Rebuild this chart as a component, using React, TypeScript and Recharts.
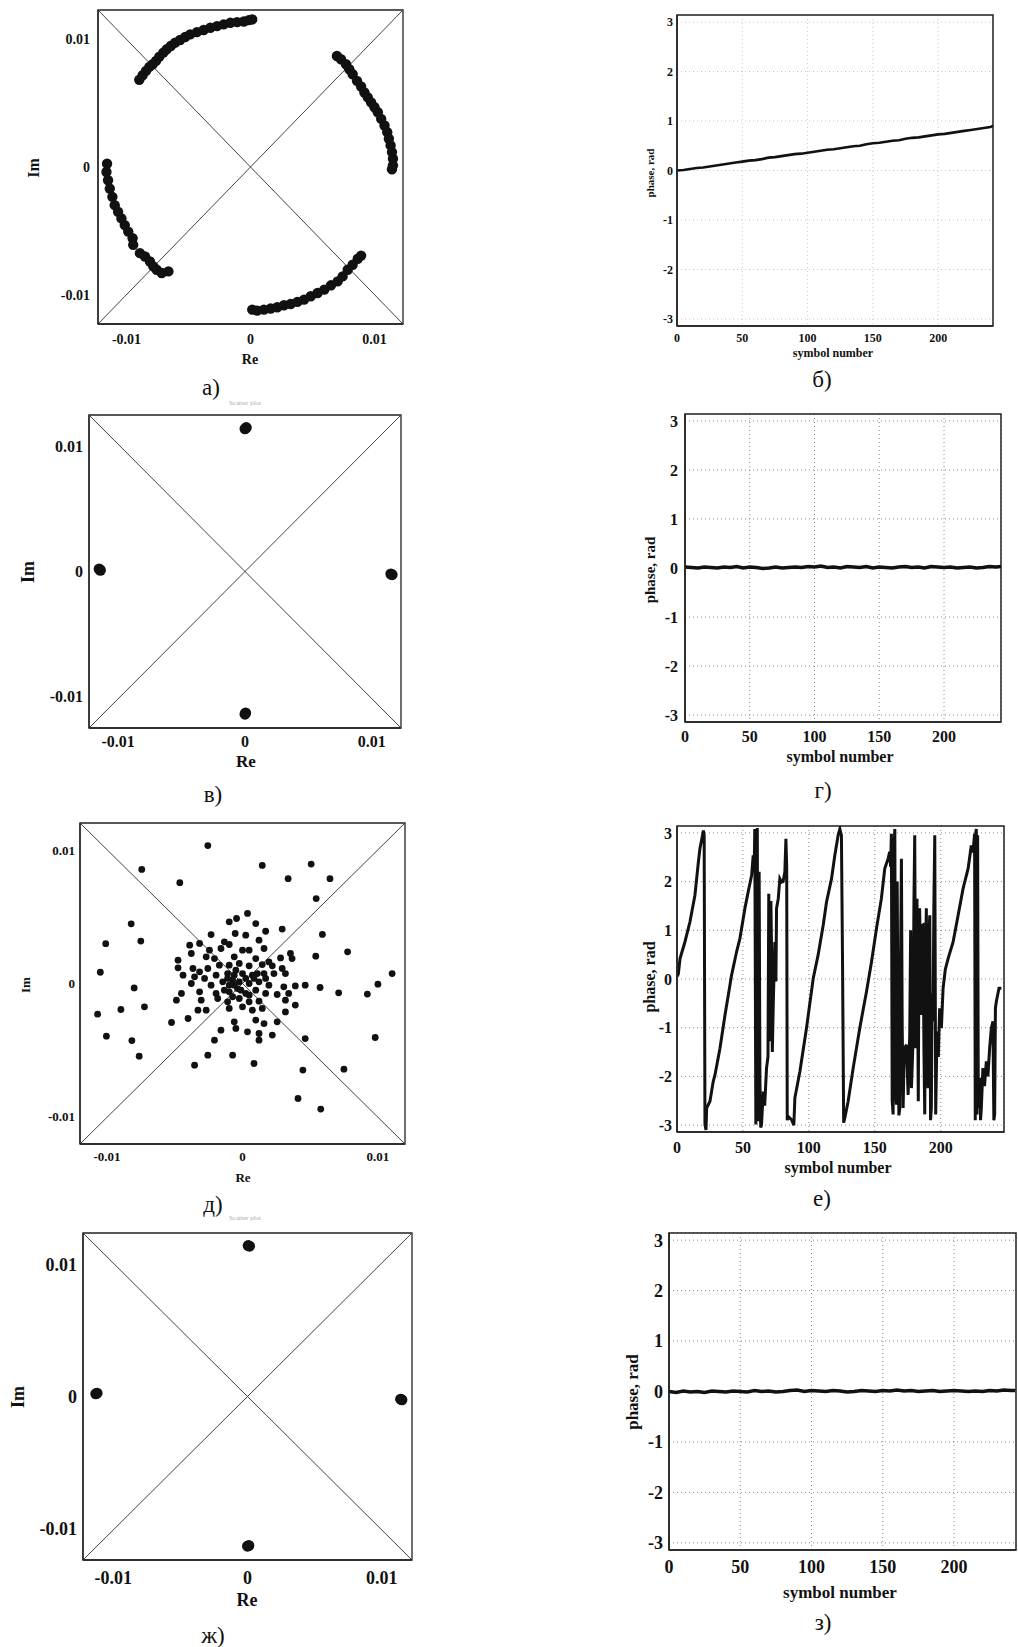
import React from 'react';
import {
  ScatterChart, Scatter, LineChart, Line, XAxis, YAxis, CartesianGrid,
  ReferenceLine, ReferenceArea,
} from 'recharts';

// constellation а): rotating QPSK, Re / Im in units of 1e-3
const arcTop = [
  [-8.97, 6.83], [-8.7, 7.19], [-8.43, 7.53], [-8.16, 7.84], [-7.89, 8.05], [-7.62, 8.31],
  [-7.35, 8.65], [-7.03, 8.96], [-6.76, 9.22], [-6.43, 9.48], [-6.08, 9.74], [-5.68, 9.95],
  [-5.27, 10.18], [-4.86, 10.39], [-4.32, 10.57], [-3.78, 10.73], [-3.24, 10.91], [-2.7, 11.04],
  [-2.16, 11.17], [-1.62, 11.3], [-1.08, 11.35], [-0.54, 11.4], [-0.14, 11.51], [0.14, 11.56],
];
const arcRight = [
  [6.97, 8.7], [7.3, 8.44], [7.7, 8.05], [7.97, 7.66], [8.24, 7.27], [8.59, 6.75], [8.92, 6.31],
  [9.19, 5.84], [9.46, 5.45], [9.73, 5.06], [10.0, 4.68], [10.27, 4.29], [10.54, 3.77],
  [10.81, 3.25], [11.03, 2.73], [11.16, 2.21], [11.3, 1.69], [11.41, 1.17], [11.49, 0.65],
  [11.49, 0.13], [11.41, -0.18],
];
const arcLeft = [
  [-11.57, 0.26], [-11.62, -0.39], [-11.49, -1.04], [-11.35, -1.69], [-11.14, -2.34],
  [-10.95, -2.99], [-10.68, -3.51], [-10.41, -4.03], [-10.14, -4.55], [-9.86, -5.06],
  [-9.51, -5.58], [-9.46, -6.1], [-8.92, -6.75], [-8.51, -7.01], [-8.11, -7.4], [-7.84, -7.79],
  [-7.57, -8.05], [-7.16, -8.31], [-6.62, -8.18],
];
const arcBottom = [
  [0.14, -11.17], [0.54, -11.25], [1.08, -11.17], [1.62, -11.09], [2.16, -10.99], [2.7, -10.83],
  [3.24, -10.73], [3.78, -10.57], [4.32, -10.39], [4.86, -10.13], [5.41, -9.87], [5.95, -9.61],
  [6.49, -9.27], [7.03, -8.96], [7.43, -8.57], [7.84, -8.05], [8.24, -7.66], [8.65, -7.19],
  [8.92, -6.94],
];

// constellation в): after correction
const pointsB = [
  [0, 11.4], [0.1, 11.5], [-11.5, 0.2], [-11.4, 0.1], [11.5, -0.2], [11.6, -0.25], [0, -11.4], [0.05, -11.3],
];

// constellation д): noise-like cloud
const cloudD = [
  [0.37, 5.28], [-0.44, 4.9], [-0.98, 4.65], [0.98, 4.52], [-2.32, 3.69], [-0.54, 3.77], [0.24, 3.64],
  [1.71, 3.94], [2.93, 4.1], [1.22, 3.27], [-3.9, 2.89], [-3.17, 3.02], [-1.34, 3.14], [-0.98, 2.94],
  [-3.78, 2.26], [-2.44, 2.51], [-1.59, 2.64], [0, 2.51], [0.49, 2.51], [1.59, 2.64], [2.81, 1.93],
  [3.54, 2.26], [3.66, 1.88], [-4.76, 1.76], [-2.68, 2.01], [-2.07, 1.88], [-0.61, 2.01], [0.98, 1.88],
  [1.95, 1.63], [-4.76, 1.18], [-3.66, 1.13], [-3.17, 0.88], [-2.56, 1.13], [-1.71, 1.38], [-0.98, 1.38],
  [-0.24, 1.51], [0.49, 1.33], [1.46, 1.43], [2.2, 1.33], [2.93, 1.13], [-4.39, 0.63], [-3.54, 0.5],
  [-2.8, 0.38], [-1.95, 0.63], [-1.1, 0.75], [-0.61, 0.63], [0, 0.75], [0.73, 0.63], [1.59, 0.75],
  [2.32, 0.75], [3.17, 0.75], [-3.78, 0], [-2.32, -0.13], [-1.46, 0.13], [-0.73, 0.25], [-0.24, 0.13],
  [0.49, 0], [1.22, 0.13], [1.95, -0.13], [3.05, -0.25], [3.9, -0.18], [4.63, -0.13], [-4.51, -0.75],
  [-3.17, -0.63], [-1.95, -0.75], [-0.98, -0.63], [-0.37, -0.38], [0.24, -0.75], [0.98, -0.5],
  [1.71, -0.75], [2.56, -0.83], [3.41, -0.75], [-4.88, -1.26], [-3.05, -1.26], [-1.83, -1.13],
  [-1.1, -1.38], [-0.24, -1.13], [0.49, -1.38], [1.22, -1.33], [3.9, -1.63], [-3.29, -2.01],
  [-2.68, -2.01], [-0.98, -1.88], [0, -1.76], [0.73, -2.01], [1.46, -1.88], [3.17, -2.14],
  [-5.24, -2.94], [-4.02, -2.64], [-0.61, -2.89], [0.98, -2.76], [1.59, -3.02], [2.56, -2.89],
  [-1.59, -3.52], [-0.49, -3.39], [0.37, -3.64], [1.22, -3.77], [2.2, -3.89], [-2.07, -4.27],
  [1.22, -4.27], [-2.56, -5.4], [-0.73, -5.4], [0.85, -6.03], [-3.54, -6.16], [4.63, -4.15],
  [3.17, -1.26], [-1.1, 0.38], [-0.61, -0.13], [-0.12, -0.5], [0.24, 0.38], [0.85, 0.38],
  [-0.98, -0.13], [-0.49, 1.0], [1.1, 0.75], [1.71, 0.38], [0.49, -0.88], [-0.73, -1.0], [-1.34, -0.5],
  [-2.56, 10.4], [-7.44, 8.6], [-4.63, 7.6], [1.46, 8.9], [3.37, 7.9], [5.07, 9.0], [6.46, 7.9],
  [5.44, 6.4], [-8.22, 4.5], [-10.1, 3.0], [-7.51, 3.2], [-10.5, 0.85], [-8.0, -0.33], [-8.98, -1.96],
  [-7.24, -1.76], [-10.7, -2.31], [-10.05, -3.97], [-8.17, -4.3], [-7.63, -5.48], [4.46, -6.53],
  [4.1, -8.67], [5.78, -9.47], [7.49, -6.46], [9.8, -4.07], [9.22, -0.8], [10.0, -0.05], [11.05, 0.75],
  [7.1, -0.7], [5.73, -0.3], [7.76, 2.39], [5.41, 2.06], [5.9, 3.7],
];

// constellation ж)
const pointsZh = [
  [0.05, 11.45], [0.15, 11.4], [-11.2, 0.25], [-11.3, 0.2], [11.4, -0.2], [11.5, -0.25], [0, -11.35], [0.1, -11.3],
];

// phase, rad vs symbol number
const symbolIdx = [
  0, 5, 10, 15, 20, 25, 30, 35, 40, 45, 50, 55, 60, 65, 70, 75, 80, 85, 90, 95, 100, 105, 110, 115,
  120, 125, 130, 135, 140, 145, 150, 155, 160, 165, 170, 175, 180, 185, 190, 195, 200, 205, 210, 215,
  220, 225, 230, 235, 240,
];
const phaseB = [
  0.0, 0.01, 0.03, 0.05, 0.06, 0.08, 0.1, 0.12, 0.14, 0.16, 0.18, 0.2, 0.21, 0.23, 0.26, 0.27, 0.29,
  0.31, 0.33, 0.34, 0.36, 0.38, 0.4, 0.42, 0.43, 0.45, 0.47, 0.49, 0.5, 0.53, 0.55, 0.56, 0.58, 0.6,
  0.61, 0.64, 0.66, 0.67, 0.69, 0.71, 0.73, 0.74, 0.76, 0.78, 0.8, 0.82, 0.84, 0.86, 0.88, 0.9,
];
const phaseG = [
  0.02, 0.01, 0.0, 0.02, 0.01, 0.0, 0.02, 0.01, 0.03, 0.0, 0.02, 0.01, -0.01, 0.0, 0.02, 0.0, 0.01,
  0.02, 0.01, 0.03, 0.02, 0.04, 0.01, 0.02, 0.0, 0.03, 0.02, 0.01, 0.03, 0.0, 0.02, 0.01, 0.0, 0.02,
  0.03, 0.01, 0.02, 0.0, 0.03, 0.02, 0.01, 0.02, 0.0, 0.01, 0.02, 0.0, 0.01, 0.03, 0.02, 0.03,
];
const phaseZ = [
  0.0, -0.02, 0.01, -0.01, 0.0, -0.02, 0.01, 0.0, -0.01, 0.01, 0.0, -0.01, 0.02, 0.0, 0.01, -0.01,
  0.0, 0.02, 0.03, 0.0, 0.02, 0.01, 0.0, 0.02, 0.01, -0.01, 0.0, 0.02, 0.01, 0.0, 0.02, 0.01, 0.03,
  0.01, 0.02, 0.0, 0.01, 0.02, 0.0, 0.01, 0.02, 0.01, 0.0, 0.01, 0.0, 0.02, 0.01, 0.03, 0.02, 0.02,
];
const phaseE = [
  [0, 0.05], [1, 0.1], [2.3, 0.42], [6, 0.76], [9.8, 1.17], [13.6, 1.72], [16.2, 2.4], [17.4, 2.68],
  [19, 2.9], [20, 3.05], [20.6, 2.95], [21.2, -2.99], [22, -3.1], [22.5, -2.65], [25, -2.51],
  [27.5, -2.1], [28.8, -1.97], [32.6, -1.42], [36.4, -0.74], [40.2, -0.12], [41.4, 0.08], [45.2, 0.56],
  [47.7, 0.83], [51.5, 1.45], [54, 1.79], [56.6, 2.13], [57.8, 2.54], [58.5, 2.2], [59, 3.08],
  [59.8, -2.99], [60.4, 2.6], [60.9, 3.1], [61.4, -2.5], [61.9, -2.92], [62.3, 2.2], [62.9, -2.1],
  [63.5, -3.05], [64.1, -2.99], [65.4, -2.31], [66.5, -2.6], [67.9, -1.83], [69, -1.6], [69.6, 1.75],
  [70.5, -1.28], [71.2, 1.6], [71.7, 0.63], [72.3, -1.5], [73, -0.53], [74.2, 0.76], [75, -0.05],
  [75.5, 1.45], [76.8, 1.65], [78, 2.06], [79.3, 1.99], [80.5, 2.0], [81.8, 2.2], [82.6, 2.88],
  [83.2, 2.3], [83.6, -2.9], [84.3, -2.82], [86.9, -2.89], [88.6, -3.0], [89.4, -2.44], [93.2, -1.9],
  [98.2, -1.01], [103.3, 0.01], [107, 0.49], [110.9, 1.11], [113.4, 1.58], [117.2, 2.06],
  [119.7, 2.54], [121, 2.75], [122.2, 2.95], [123.5, 3.08], [124.7, 2.95], [125.5, 0.5],
  [126.4, -2.95], [127.3, -2.85], [129.8, -2.51], [133.6, -1.83], [138.6, -1.01], [143.7, -0.26],
  [147.5, 0.35], [151.3, 1.04], [155, 1.65], [157.6, 2.27], [160.1, 2.47], [161.3, 2.61], [162, 2.3],
  [162.6, 2.98], [163.2, -2.5], [163.9, -2.78], [164.5, 2.6], [165.2, 3.08], [165.8, -2.2],
  [166.4, -2.58], [167, 2.0], [167.7, -1.35], [168.3, -2.8], [169, -2.65], [169.6, 0.5], [170.2, 2.47],
  [170.8, -1.0], [171.5, -2.65], [172.1, -1.8], [172.7, -1.42], [174, -1.35], [175.3, -2.38],
  [176.5, -1.15], [177.2, 1.0], [177.8, -2.24], [179, -1.28], [179.7, 1.6], [180.3, 2.95],
  [181, -1.42], [181.5, 1.2], [182, 1.65], [183, -2.51], [183.5, 0.5], [184, 1.45], [185.4, -0.74],
  [186, 1.1], [186.6, 1.11], [187.3, -1.5], [187.9, -2.78], [188.5, 0.2], [189.1, 1.45], [189.8, -1.8],
  [190.4, -2.24], [191, 0.8], [191.7, 1.31], [192.3, -2.9], [192.9, -2.65], [193.5, -0.3],
  [194.2, -0.87], [194.8, 1.5], [195.5, 2.95], [196.2, -2.78], [197.2, -1.08], [198.2, -1.6],
  [199.2, -0.6], [200.5, -1.01], [201.8, -0.19], [203.5, 0.2], [205.6, 0.42], [209.4, 0.76],
  [213.2, 1.31], [217, 1.86], [220.8, 2.27], [223.2, 2.74], [224.5, 2.6], [225.7, 2.98], [226.2, -2.9],
  [226.6, 3.0], [227, 3.08], [227.5, -2.78], [228, 2.95], [228.5, -2.5], [229, -2.65], [229.6, -2.03],
  [230.2, -2.9], [230.8, -2.65], [232, -1.83], [233.2, -2.2], [234.6, -1.69], [235.8, -2.0],
  [237.1, -1.42], [238.4, -1.01], [239.6, -0.87], [240.3, -2.9], [240.9, -2.78], [241.5, -0.6],
  [242.2, -0.46], [244.2, -0.19], [246, -0.19],
];

const reImTicks = [-10, 0, 10];
const phaseTicks = [-3, -2, -1, 0, 1, 2, 3];
const symbolTicks = [0, 50, 100, 150, 200];

const ML = 60, MT = 4, MR = 4, MB = 30;
const SERIF = '"Liberation Serif", "DejaVu Serif", serif';

const fmtRe = (v: number) => (v === 0 ? '0' : String(v / 1000));
const tickStyle = (size: number) => ({ fontSize: size, fontWeight: 700, fill: '#111', fontFamily: SERIF });

const Txt = ({ x, y, size, rot, weight, color, children }: any) => (
  <div style={{
    position: 'absolute', left: x, top: y, fontSize: size, fontWeight: weight || 400,
    color: color || '#111', whiteSpace: 'nowrap', lineHeight: 1,
    transform: `translate(-50%, -50%)${rot ? ' rotate(-90deg)' : ''}`,
  }}>{children}</div>
);

const Constellation = ({ box, pts, lx, ly, font, gapY, gapX, r }: any) => {
  const [x0, y0, x1, y1] = box;
  const data = pts.map(([re, im]: number[]) => ({ re, im }));
  return (
    <div style={{ position: 'absolute', left: x0 - ML, top: y0 - MT }}>
      <ScatterChart width={x1 - x0 + ML + MR} height={y1 - y0 + MT + MB} margin={{ top: MT, right: MR, left: 0, bottom: 0 }}>
        <XAxis type="number" dataKey="re" domain={[-lx, lx]} allowDataOverflow ticks={reImTicks}
          tickFormatter={fmtRe} tickLine={false} tickSize={0} tickMargin={gapX} height={MB}
          axisLine={{ stroke: '#222', strokeWidth: 1.3 }} tick={tickStyle(font)} />
        <YAxis type="number" dataKey="im" domain={[-ly, ly]} allowDataOverflow ticks={reImTicks}
          tickFormatter={fmtRe} tickLine={false} tickSize={0} tickMargin={gapY} width={ML}
          axisLine={{ stroke: '#222', strokeWidth: 1.3 }} tick={tickStyle(font)} />
        <ReferenceArea x1={-lx} x2={lx} y1={-ly} y2={ly} fill="none" stroke="#222" strokeWidth={1.3} ifOverflow="visible" />
        <ReferenceLine segment={[{ x: -lx, y: -ly }, { x: lx, y: ly }]} stroke="#444" strokeWidth={1} ifOverflow="visible" />
        <ReferenceLine segment={[{ x: -lx, y: ly }, { x: lx, y: -ly }]} stroke="#444" strokeWidth={1} ifOverflow="visible" />
        <Scatter data={data} isAnimationActive={false}
          shape={(p: any) => <circle cx={p.cx} cy={p.cy} r={r} fill="#111" />} />
      </ScatterChart>
    </div>
  );
};

const Phase = ({ box, pts, xmax, font, gapY, gapX, grid, sw }: any) => {
  const [x0, y0, x1, y1] = box;
  const data = pts.map(([s, v]: number[]) => ({ s, v }));
  return (
    <div style={{ position: 'absolute', left: x0 - ML, top: y0 - MT }}>
      <LineChart width={x1 - x0 + ML + MR} height={y1 - y0 + MT + MB} data={data} margin={{ top: MT, right: MR, left: 0, bottom: 0 }}>
        <CartesianGrid stroke={grid} strokeDasharray="1 3" />
        <XAxis type="number" dataKey="s" domain={[0, xmax]} allowDataOverflow ticks={symbolTicks}
          tickLine={false} tickSize={0} tickMargin={gapX} height={MB}
          axisLine={{ stroke: '#222', strokeWidth: 1.5 }} tick={tickStyle(font)} />
        <YAxis type="number" domain={[-Math.PI, Math.PI]} allowDataOverflow ticks={phaseTicks}
          tickLine={false} tickSize={0} tickMargin={gapY} width={ML}
          axisLine={{ stroke: '#222', strokeWidth: 1.5 }} tick={tickStyle(font)} />
        <ReferenceArea x1={0} x2={xmax} y1={-Math.PI} y2={Math.PI} fill="none" stroke="#222" strokeWidth={1.5} ifOverflow="visible" />
        <Line type="linear" dataKey="v" stroke="#111" strokeWidth={sw} dot={false} isAnimationActive={false} />
      </LineChart>
    </div>
  );
};

const zip = (s: number[], v: number[]) => s.map((x, i) => [x, v[i]]);

export default function App() {
  const arcs = [...arcTop, ...arcRight, ...arcLeft, ...arcBottom];
  return (
    <div style={{ position: 'absolute', left: 0, top: 0, width: 1018, height: 1647, background: '#fff', fontFamily: SERIF }}>
      {/* а) */}
      <Constellation box={[98, 10, 403, 324]} pts={arcs} lx={12.3} ly={12.3} font={14} gapY={8} gapX={10} r={5.2} />
      <Txt x={34} y={168} size={16} rot weight={700}>Im</Txt>
      <Txt x={250} y={360} size={14} weight={700}>Re</Txt>
      <Txt x={211} y={387} size={23}>а)</Txt>

      {/* б) */}
      <Phase box={[677, 15, 993, 326]} pts={zip([...symbolIdx, 242], phaseB)} xmax={242} font={12} gapY={4} gapX={7} grid="#c8c8c8" sw={2.6} />
      <Txt x={650} y={173} size={11} rot weight={700}>phase, rad</Txt>
      <Txt x={833} y={353} size={12} weight={700}>symbol number</Txt>
      <Txt x={822} y={379} size={23}>б)</Txt>

      {/* в) */}
      <Txt x={245} y={403} size={7} color="#aaa">Scatter plot</Txt>
      <Constellation box={[89, 415, 401, 728]} pts={pointsB} lx={12.3} ly={12.5} font={16} gapY={6} gapX={8} r={5.5} />
      <Txt x={28} y={572} size={18} rot weight={700}>Im</Txt>
      <Txt x={246} y={761} size={17} weight={700}>Re</Txt>
      <Txt x={213} y={794} size={23}>в)</Txt>

      {/* г) */}
      <Phase box={[685, 414, 1001, 722]} pts={zip([...symbolIdx, 244], phaseG)} xmax={244} font={16} gapY={7} gapX={9} grid="#8a8a8a" sw={3.5} />
      <Txt x={650} y={570} size={15} rot weight={700}>phase, rad</Txt>
      <Txt x={840} y={757} size={16} weight={700}>symbol number</Txt>
      <Txt x={823} y={790} size={23}>г)</Txt>

      {/* д) */}
      <Constellation box={[80, 823, 405, 1144]} pts={cloudD} lx={12.0} ly={12.1} font={13} gapY={5} gapX={8} r={3.4} />
      <Txt x={25} y={985} size={13} rot weight={700}>Im</Txt>
      <Txt x={243} y={1177} size={13} weight={700}>Re</Txt>
      <Txt x={213} y={1204} size={23}>д)</Txt>

      {/* е) */}
      <Phase box={[677, 826, 1004, 1132]} pts={phaseE} xmax={248} font={16} gapY={5} gapX={10} grid="#8a8a8a" sw={3} />
      <Txt x={650} y={977} size={16} rot weight={700}>phase, rad</Txt>
      <Txt x={838} y={1168} size={16} weight={700}>symbol number</Txt>
      <Txt x={822} y={1198} size={23}>е)</Txt>

      {/* ж) */}
      <Txt x={245} y={1218} size={7} color="#aaa">Scatter plot</Txt>
      <Constellation box={[83, 1233, 412, 1560]} pts={pointsZh} lx={12.25} ly={12.4} font={18} gapY={6} gapX={11} r={5.5} />
      <Txt x={18} y={1397} size={18} rot weight={700}>Im</Txt>
      <Txt x={247} y={1600} size={18} weight={700}>Re</Txt>
      <Txt x={213} y={1635} size={23}>ж)</Txt>

      {/* з) */}
      <Phase box={[669, 1233, 1016, 1550]} pts={zip([...symbolIdx, 243], phaseZ)} xmax={243.5} font={18} gapY={6} gapX={10} grid="#8a8a8a" sw={3.5} />
      <Txt x={632} y={1392} size={17} rot weight={700}>phase, rad</Txt>
      <Txt x={840} y={1592} size={17} weight={700}>symbol number</Txt>
      <Txt x={823} y={1622} size={23}>з)</Txt>
    </div>
  );
}
